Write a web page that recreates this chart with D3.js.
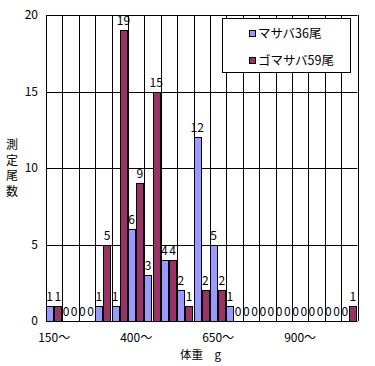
<!DOCTYPE html>
<html>
<head>
<meta charset="utf-8">
<script src="https://cdn.jsdelivr.net/npm/d3@7"></script>
<style>
  body { margin: 0; background: #fff; }
  svg text { font-family: "Noto Sans CJK JP", "DejaVu Sans", sans-serif; font-size: 12px; fill: #000; }
</style>
</head>
<body>
<svg class="chart"></svg>
<script>
// weight classes (g), 50 g steps
const categories = [150, 200, 250, 300, 350, 400, 450, 500, 550, 600, 650, 700, 750, 800, 850, 900, 950, 1000, 1050];
const tickLabels = ["150～", "400～", "650～", "900～"];
const tickCats = [150, 400, 650, 900];
const seriesNames = ["マサバ36尾", "ゴマサバ59尾"];
const masaba = [1, 0, 0, 1, 1, 6, 3, 4, 2, 12, 5, 1, 0, 0, 0, 0, 0, 0, 0];
const gomasaba = [1, 0, 0, 5, 19, 9, 15, 4, 1, 2, 2, 0, 0, 0, 0, 0, 0, 0, 1];
const yTicks = [0, 5, 10, 15, 20];
const colors = ["#9999ff", "#993366"];

const width = 375, height = 366;
const plot = { left: 46, right: 357.5, top: 15, bottom: 321 };

const svg = d3.select("svg.chart")
    .attr("width", width)
    .attr("height", height);

const x = d3.scaleBand()
    .domain(categories)
    .range([plot.left, plot.right])
    .padding(0);

const y = d3.scaleLinear()
    .domain([0, 20])
    .range([plot.bottom, plot.top]);

// grid lines
svg.append("g")
    .selectAll("line")
    .data(yTicks)
    .join("line")
    .attr("x1", plot.left).attr("x2", plot.right)
    .attr("y1", d => Math.round(y(d)) + 0.5).attr("y2", d => Math.round(y(d)) + 0.5)
    .attr("stroke", "#000");

svg.append("g")
    .selectAll("line")
    .data(categories.concat([null]))
    .join("line")
    .attr("x1", d => Math.round(d === null ? plot.right : x(d)) + 0.5)
    .attr("x2", d => Math.round(d === null ? plot.right : x(d)) + 0.5)
    .attr("y1", plot.top).attr("y2", plot.bottom)
    .attr("stroke", "#000");

// bars
const series = [masaba, gomasaba];
const bw = x.bandwidth();
series.forEach((vals, si) => {
    const g = svg.append("g");
    g.selectAll("rect")
        .data(vals.map((v, i) => ({ cat: categories[i], v })))
        .join("rect")
        .filter(d => d.v > 0)
        .attr("x", d => Math.round(x(d.cat) + si * bw * 0.5) + 0.5)
        .attr("y", d => Math.round(y(d.v)) + 0.5)
        .attr("width", Math.round(bw * 0.43))
        .attr("height", d => Math.round(y(0)) - Math.round(y(d.v)))
        .attr("fill", colors[si])
        .attr("stroke", "#000");
    g.selectAll("text")
        .data(vals.map((v, i) => ({ cat: categories[i], v })))
        .join("text")
        .attr("x", d => x(d.cat) + si * bw * 0.5 + bw * 0.22)
        .attr("y", d => y(d.v) - 5)
        .attr("text-anchor", "middle")
        .text(d => d.v);
});

// y tick labels
svg.append("g")
    .selectAll("text")
    .data(yTicks)
    .join("text")
    .attr("x", 38)
    .attr("y", d => y(d))
    .attr("dy", "0.35em")
    .attr("text-anchor", "end")
    .text(d => d);

// x tick labels
svg.append("g")
    .selectAll("text")
    .data(tickCats)
    .join("text")
    .attr("x", d => x(d) + bw / 2)
    .attr("y", 342)
    .attr("text-anchor", "middle")
    .text((d, i) => tickLabels[i]);

// axis titles
svg.append("text")
    .attr("x", 180)
    .attr("y", 359)
    .style("font-size", "11.5px")
    .text("体重　g");

const yTitle = "測定尾数".split("");
svg.append("g")
    .selectAll("text")
    .data(yTitle)
    .join("text")
    .attr("x", 12)
    .attr("y", (d, i) => 145 + i * 15.5)
    .attr("dy", "0.35em")
    .attr("text-anchor", "middle")
    .text(d => d);

// legend
const legend = svg.append("g");
legend.append("rect")
    .attr("x", 222.5).attr("y", 18.5)
    .attr("width", 128).attr("height", 54)
    .attr("fill", "#fff")
    .attr("stroke", "#000");
seriesNames.forEach((name, i) => {
    legend.append("rect")
        .attr("x", 249.5).attr("y", 30.5 + i * 27)
        .attr("width", 6).attr("height", 6)
        .attr("fill", colors[i])
        .attr("stroke", "#000");
    legend.append("text")
        .attr("x", 258)
        .attr("y", 33.5 + i * 27)
        .attr("dy", "0.35em")
        .style("font-size", "12.5px")
        .text(name);
});
</script>
</body>
</html>
